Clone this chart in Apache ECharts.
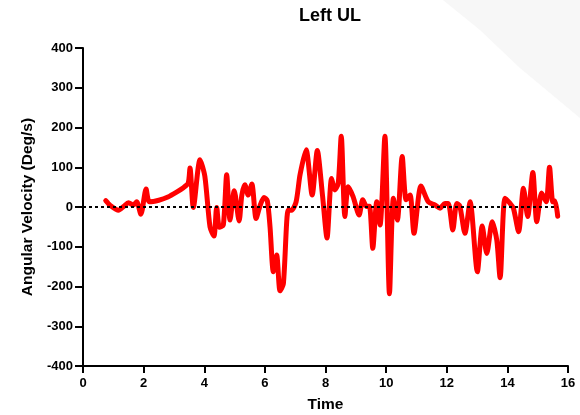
<!DOCTYPE html>
<html>
<head>
<meta charset="utf-8">
<script src="https://cdn.jsdelivr.net/npm/echarts@6/dist/echarts.min.js"></script>
<style>
  html, body { margin: 0; padding: 0; background: #fff; }
  #chart { width: 580px; height: 415px; }
</style>
</head>
<body>
<div id="chart"></div>
<script>
  // time (s) and angular velocity (deg/s)
  var time = [0.75, 0.9, 1.17, 1.35, 1.5, 1.66, 1.77, 1.91, 2.08, 2.19, 2.5, 2.8, 3.1, 3.3, 3.47, 3.53, 3.64, 3.86, 4.02, 4.19, 4.32, 4.41, 4.5, 4.63, 4.74, 4.85, 4.99, 5.15, 5.24, 5.34, 5.45, 5.57, 5.71, 5.84, 5.97, 6.08, 6.17, 6.28, 6.39, 6.5, 6.61, 6.77, 6.88, 7.03, 7.16, 7.36, 7.56, 7.73, 7.9, 8.05, 8.2, 8.31, 8.42, 8.52, 8.64, 8.75, 8.91, 9.11, 9.23, 9.36, 9.45, 9.56, 9.69, 9.8, 9.96, 10.11, 10.24, 10.37, 10.53, 10.66, 10.79, 10.92, 11.15, 11.39, 11.61, 11.78, 11.94, 12.05, 12.2, 12.33, 12.43, 12.6, 12.77, 13.01, 13.17, 13.32, 13.5, 13.65, 13.76, 13.92, 14.09, 14.2, 14.37, 14.53, 14.67, 14.84, 14.97, 15.13, 15.28, 15.39, 15.5, 15.57, 15.66];
  var velocity = [16, 4, -8, 2, 11, 5, 13, -18, 45, 13, 17, 25, 38, 48, 60, 98, -1, 119, 77, -50, -73, -1, -51, -45, 81, -33, 41, -35, 30, 56, 30, 58, -29, 3, 24, 16, -50, -163, -121, -211, -193, -8, -8, 13, 81, 144, 30, 142, 30, -78, 72, 43, 60, 178, -24, 51, 26, -20, 18, 1, 2, -104, 13, -45, 178, -218, 22, -33, 127, 18, 30, -66, 53, 13, 5, -3, 9, 9, -58, 9, 3, -66, 13, -163, -48, -117, -37, -83, -178, 22, 9, -3, -62, 47, -24, 87, -37, 35, 13, 100, 13, 15, -23];
  // dotted zero reference
  var zeroX = [0, 15.65];
  var zeroY = [0, 0];

  var xTicks = [0, 2, 4, 6, 8, 10, 12, 14, 16];
  var yTicks = [-400, -300, -200, -100, 0, 100, 200, 300, 400];

  var myChart = echarts.init(document.getElementById('chart'));
  var font = 'Liberation Sans, Arial, Helvetica, sans-serif';

  var option = {
    animation: false,
    backgroundColor: '#fff',
    graphic: [{
      // faint slide decoration in the corner
      type: 'polygon',
      z: -10,
      shape: { points: [[443, 0], [580, 0], [580, 118], [520, 68], [480, 30]] },
      style: { fill: '#f7f7f7' }
    }],
    title: {
      text: 'Left UL',
      left: 325,
      top: 2,
      textAlign: 'center',
      textStyle: { fontFamily: font, fontWeight: 'bold', fontSize: 18, color: '#000' }
    },
    grid: { left: 83, right: 12, top: 48, bottom: 49, outerBoundsMode: 'none', containLabel: false },
    xAxis: {
      type: 'value',
      min: 0,
      max: 16,
      interval: 2,
      name: 'Time',
      nameLocation: 'middle',
      nameGap: 31,
      nameTextStyle: { fontFamily: font, fontWeight: 'bold', fontSize: 15.5, color: '#000' },
      axisLine: { onZero: false, lineStyle: { color: '#000', width: 2 } },
      axisTick: { length: 7, lineStyle: { color: '#000', width: 2 } },
      axisLabel: { fontFamily: font, fontWeight: 'bold', fontSize: 13, color: '#000', margin: 11,
        formatter: function (v) { return xTicks.indexOf(v) > -1 ? String(v) : ''; } },
      splitLine: { show: false }
    },
    yAxis: {
      type: 'value',
      min: -400,
      max: 400,
      interval: 100,
      name: 'Angular Velocity (Deg/s)',
      nameLocation: 'middle',
      nameGap: 41,
      nameTextStyle: { fontFamily: font, fontWeight: 'bold', fontSize: 15.5, color: '#000' },
      axisLine: { show: true, onZero: false, lineStyle: { color: '#000', width: 2 } },
      axisTick: { show: true, length: 8, lineStyle: { color: '#000', width: 2 } },
      axisLabel: { fontFamily: font, fontWeight: 'bold', fontSize: 13, color: '#000', margin: 10,
        formatter: function (v) { return yTicks.indexOf(v) > -1 ? String(v) : ''; } },
      splitLine: { show: false }
    },
    series: [{
      type: 'line',
      data: zeroX.map(function (x, i) { return [x, zeroY[i]]; }),
      showSymbol: false,
      lineStyle: { color: '#000', width: 2, type: [3, 3] },
      z: 3
    }, {
      type: 'line',
      data: time.map(function (t, i) { return [t, velocity[i]]; }),
      showSymbol: false,
      smooth: 0.25,
      lineStyle: { color: '#ff0000', width: 5, cap: 'round', join: 'round' },
      z: 2
    }]
  };
  myChart.setOption(option, true);
</script>
</body>
</html>
